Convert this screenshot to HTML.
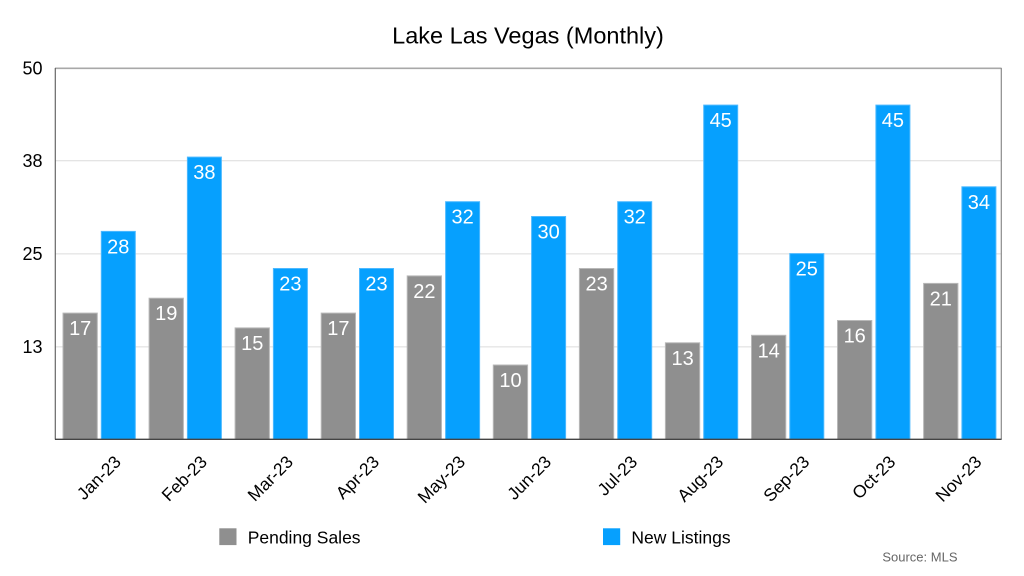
<!DOCTYPE html>
<html>
<head>
<meta charset="utf-8">
<style>
html,body{margin:0;padding:0;background:#fff;}
svg{display:block;}
text{font-family:"Liberation Sans",Arial,Helvetica,sans-serif;}
</style>
</head>
<body>
<svg width="1024" height="576" viewBox="0 0 1024 576" xmlns="http://www.w3.org/2000/svg">
<rect width="1024" height="576" fill="#fff"/>
<text x="528" y="43.3" font-size="23.5" text-anchor="middle" fill="#000">Lake Las Vegas (Monthly)</text>

<!-- gridlines -->
<g stroke="#dcdcdc" stroke-width="1">
<line x1="55" y1="160.8" x2="1001" y2="160.8"/>
<line x1="55" y1="253.9" x2="1001" y2="253.9"/>
<line x1="55" y1="346.9" x2="1001" y2="346.9"/>
</g>

<!-- y labels -->
<g font-size="18" text-anchor="end" fill="#000">
<text x="42.5" y="74.3">50</text>
<text x="42.5" y="167.1">38</text>
<text x="42.5" y="260.2">25</text>
<text x="42.5" y="353.2">13</text>
</g>

<!-- frame -->
<line x1="55" y1="68.3" x2="1001.5" y2="68.3" stroke="#a8a8a8" stroke-width="1.6"/>
<line x1="1001.3" y1="68" x2="1001.3" y2="439.5" stroke="#8a8a8a" stroke-width="1.2"/>
<line x1="55.3" y1="68" x2="55.3" y2="439.5" stroke="#666" stroke-width="1.2"/>

<!-- legend -->
<rect x="219.3" y="528.3" width="17.2" height="16.8" fill="#8f8f8f"/>
<text x="247.7" y="543.4" font-size="17.5" fill="#000">Pending Sales</text>
<rect x="603" y="528.3" width="17.2" height="16.8" fill="#06a0fe"/>
<text x="631.4" y="543.4" font-size="17.5" fill="#000">New Listings</text>

<text x="957.5" y="561.7" font-size="13" text-anchor="end" fill="#666">Source: MLS</text>

<g fill="#8f8f8f" stroke="#b8b8b8" stroke-width="1">
<rect x="63" y="313.1" width="34.3" height="126.2"/>
<rect x="149.1" y="298.2" width="34.3" height="141.1"/>
<rect x="235.1" y="327.9" width="34.3" height="111.4"/>
<rect x="321.2" y="313.1" width="34.3" height="126.2"/>
<rect x="407.2" y="275.9" width="34.3" height="163.4"/>
<rect x="493.3" y="365.0" width="34.3" height="74.3"/>
<rect x="579.4" y="268.5" width="34.3" height="170.8"/>
<rect x="665.4" y="342.8" width="34.3" height="96.5"/>
<rect x="751.5" y="335.3" width="34.3" height="104.0"/>
<rect x="837.5" y="320.5" width="34.3" height="118.8"/>
<rect x="923.6" y="283.4" width="34.3" height="155.9"/>
</g>
<g fill="#06a0fe" stroke="#4db9ff" stroke-width="1">
<rect x="101.3" y="231.4" width="34" height="207.9"/>
<rect x="187.4" y="157.1" width="34" height="282.2"/>
<rect x="273.4" y="268.5" width="34" height="170.8"/>
<rect x="359.5" y="268.5" width="34" height="170.8"/>
<rect x="445.6" y="201.7" width="34" height="237.6"/>
<rect x="531.6" y="216.5" width="34" height="222.8"/>
<rect x="617.7" y="201.7" width="34" height="237.6"/>
<rect x="703.7" y="105.1" width="34" height="334.2"/>
<rect x="789.8" y="253.6" width="34" height="185.7"/>
<rect x="875.9" y="105.1" width="34" height="334.2"/>
<rect x="961.9" y="186.8" width="34" height="252.5"/>
</g>

<line x1="55" y1="439.3" x2="1001.5" y2="439.3" stroke="#444" stroke-width="1.3"/>

<!-- value labels -->
<g font-size="20" fill="#fff" text-anchor="middle">
<text x="80.2" y="335.1">17</text>
<text x="166.3" y="320.2">19</text>
<text x="252.3" y="349.9">15</text>
<text x="338.4" y="335.1">17</text>
<text x="424.4" y="297.9">22</text>
<text x="510.5" y="387.0">10</text>
<text x="596.6" y="290.5">23</text>
<text x="682.6" y="364.8">13</text>
<text x="768.7" y="357.3">14</text>
<text x="854.7" y="342.5">16</text>
<text x="940.8" y="305.4">21</text>

<text x="118.3" y="253.4">28</text>
<text x="204.4" y="179.1">38</text>
<text x="290.4" y="290.5">23</text>
<text x="376.5" y="290.5">23</text>
<text x="462.6" y="223.7">32</text>
<text x="548.6" y="238.5">30</text>
<text x="634.7" y="223.7">32</text>
<text x="720.7" y="127.1">45</text>
<text x="806.8" y="275.6">25</text>
<text x="892.9" y="127.1">45</text>
<text x="978.9" y="208.8">34</text>
</g>

<!-- x labels -->
<g font-size="17.5" fill="#000" text-anchor="end">
<text transform="translate(122,463) rotate(-45)">Jan-23</text>
<text transform="translate(208.1,463) rotate(-45)">Feb-23</text>
<text transform="translate(294.1,463) rotate(-45)">Mar-23</text>
<text transform="translate(380.2,463) rotate(-45)">Apr-23</text>
<text transform="translate(466.2,463) rotate(-45)">May-23</text>
<text transform="translate(552.3,463) rotate(-45)">Jun-23</text>
<text transform="translate(638.4,463) rotate(-45)">Jul-23</text>
<text transform="translate(724.4,463) rotate(-45)">Aug-23</text>
<text transform="translate(810.5,463) rotate(-45)">Sep-23</text>
<text transform="translate(896.5,463) rotate(-45)">Oct-23</text>
<text transform="translate(982.6,463) rotate(-45)">Nov-23</text>
</g>
</svg>
</body>
</html>
